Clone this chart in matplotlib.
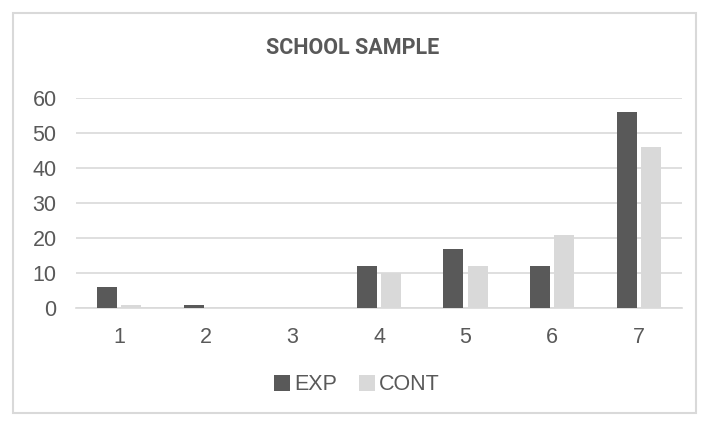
import numpy as np
import matplotlib.pyplot as plt
from matplotlib.patches import Rectangle

categories = ['1', '2', '3', '4', '5', '6', '7']
exp_vals = [6, 1, 0, 12, 17, 12, 56]
cont_vals = [1, 0, 0, 10, 12, 21, 46]

fig = plt.figure(figsize=(7.06, 4.26), dpi=100)
fig.patches.append(Rectangle((13/706, 13/426), 683/706, 400/426, transform=fig.transFigure,
                             fill=False, edgecolor='#d9d9d9', linewidth=1.5))
ax = fig.add_axes([76/706, 1 - 308/426, 606/706, 210/426])

x = np.arange(len(categories))
w = 0.23
ax.bar(x - 0.14, exp_vals, w, color='#595959', label='EXP', zorder=3)
ax.bar(x + 0.14, cont_vals, w, color='#d9d9d9', label='CONT', zorder=3)

ax.set_xlim(-0.5, len(categories) - 0.5)
ax.set_ylim(0, 60)
ax.set_yticks(range(0, 61, 10))
ax.set_xticks(x)
ax.set_xticklabels(categories)
ax.grid(axis='y', color='#d9d9d9', linewidth=1.2, zorder=0)
for s in ['top', 'right', 'left']:
    ax.spines[s].set_visible(False)
ax.spines['bottom'].set_color('#d9d9d9')
ax.spines['bottom'].set_linewidth(1.2)
ax.tick_params(axis='y', length=0, labelsize=15.5, labelcolor='#595959', pad=14)
ax.tick_params(axis='x', length=0, labelsize=15.5, labelcolor='#595959', pad=14)
for lab in ax.get_xticklabels() + ax.get_yticklabels():
    lab.set_family('Liberation Sans')

# titulo (fuente condensada no disponible, Roboto mas chica)
fig.text(0.5, 1 - 48/426, 'SCHOOL SAMPLE', ha='center', va='center',
         fontsize=15.5, color='#595959', family='Roboto', fontweight='bold')

ax.legend(loc='center', bbox_to_anchor=(357/706, 1 - 385/426), bbox_transform=fig.transFigure,
          ncol=2, frameon=False, handlelength=0.75, handleheight=0.75, handletextpad=0.2,
          columnspacing=1.0, prop={'family': 'Liberation Sans', 'size': 15.5},
          labelcolor='#595959')

fig.savefig('out.png', dpi=100)
